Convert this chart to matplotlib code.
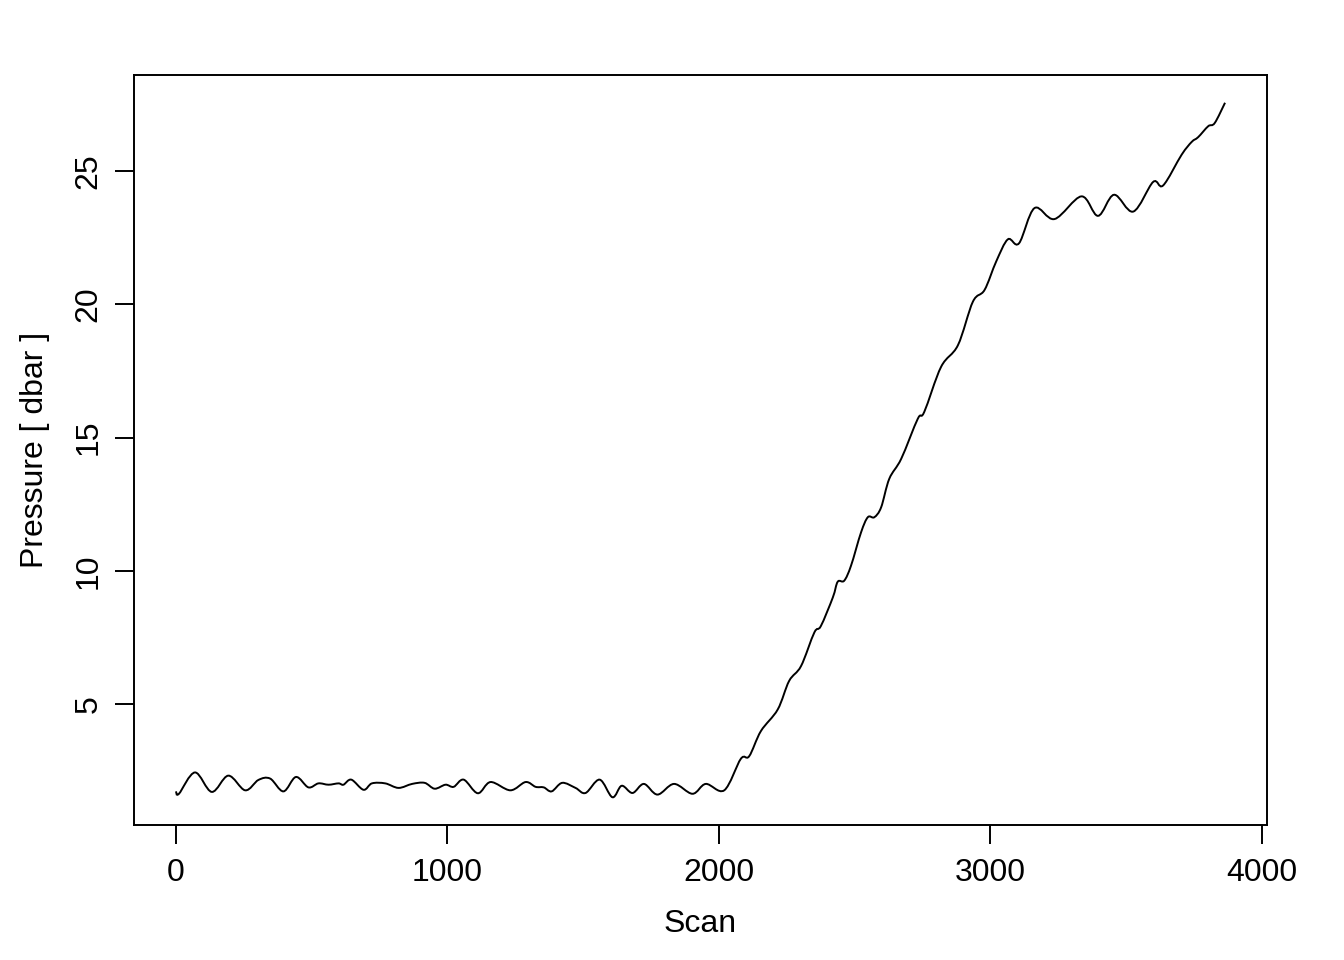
import numpy as np
import matplotlib
matplotlib.use('Agg')
import matplotlib.pyplot as plt
from matplotlib.path import Path
from matplotlib.patches import PathPatch

# scan number vs pressure
scan = [0, 11, 70, 132, 193, 255, 304, 347, 396, 442, 488, 525, 562, 599, 617,
        646, 691, 722, 771, 820, 870, 916, 953, 993, 1023, 1060, 1112, 1159,
        1232, 1288, 1325, 1355, 1384, 1423, 1472, 1509, 1561, 1608, 1642, 1682,
        1724, 1774, 1835, 1903, 1952, 2020, 2081, 2112, 2155, 2217, 2259, 2303,
        2352, 2376, 2420, 2438, 2462, 2487, 2524, 2549, 2573, 2598, 2628, 2672,
        2733, 2757, 2819, 2881, 2936, 2979, 3022, 3065, 3106, 3163, 3237, 3336,
        3397, 3456, 3527, 3600, 3637, 3705, 3742, 3766, 3803, 3827, 3865]
pressure = [1.74, 1.65, 2.45, 1.72, 2.33, 1.78, 2.17, 2.22, 1.74, 2.28, 1.89,
            2.04, 1.99, 2.04, 1.99, 2.18, 1.80, 2.04, 2.04, 1.87, 2.02, 2.06,
            1.84, 1.99, 1.91, 2.18, 1.67, 2.09, 1.78, 2.09, 1.91, 1.89, 1.74,
            2.06, 1.87, 1.68, 2.18, 1.52, 1.95, 1.68, 2.02, 1.62, 2.02, 1.65,
            2.02, 1.78, 2.96, 3.06, 4.00, 4.81, 5.88, 6.44, 7.70, 7.94, 9.01,
            9.60, 9.64, 10.20, 11.45, 12.02, 12.02, 12.39, 13.46, 14.21, 15.71,
            15.97, 17.66, 18.47, 20.10, 20.54, 21.61, 22.44, 22.29, 23.61,
            23.20, 24.05, 23.32, 24.11, 23.48, 24.59, 24.46, 25.61, 26.09,
            26.27, 26.68, 26.80, 27.56]

xticks = [0, 1000, 2000, 3000, 4000]
yticks = [5, 10, 15, 20, 25]

plt.rcParams['font.family'] = ['Liberation Sans', 'DejaVu Sans']

fig = plt.figure(figsize=(13.44, 9.6), dpi=100)
ax = fig.add_axes([0.0997, 0.1406, 0.8430, 0.7813])

# smooth curve through the read points (Catmull-Rom as cubic Bezier)
x = np.asarray(scan, float)
y = np.asarray(pressure, float)
verts = [(x[0], y[0])]
codes = [Path.MOVETO]
n = len(x)
for i in range(n - 1):
    p0 = (x[max(i - 1, 0)], y[max(i - 1, 0)])
    p1 = (x[i], y[i])
    p2 = (x[i + 1], y[i + 1])
    p3 = (x[min(i + 2, n - 1)], y[min(i + 2, n - 1)])
    c1 = (p1[0] + (p2[0] - p0[0]) / 6, p1[1] + (p2[1] - p0[1]) / 6)
    c2 = (p2[0] - (p3[0] - p1[0]) / 6, p2[1] - (p3[1] - p1[1]) / 6)
    verts += [c1, c2, p2]
    codes += [Path.CURVE4] * 3
ax.add_patch(PathPatch(Path(verts, codes), facecolor='none',
                       edgecolor='black', lw=1.4))

# R-style 4% padding
dx = (x.max() - x.min()) * 0.04
dy = (y.max() - y.min()) * 0.04
ax.set_xlim(x.min() - dx, x.max() + dx)
ax.set_ylim(y.min() - dy, y.max() + dy)

ax.set_xticks(xticks)
ax.set_yticks(yticks)
ax.set_xticklabels([str(t) for t in xticks])
ax.set_yticklabels([str(t) for t in yticks], rotation=90, va='center')
ax.tick_params(length=14, width=1.4, labelsize=23)
ax.tick_params(axis='x', pad=10)
ax.tick_params(axis='y', pad=8)

for s in ax.spines.values():
    s.set_linewidth(1.4)

ax.set_xlabel('Scan', fontsize=23, labelpad=15)
ax.set_ylabel('Pressure [ dbar ]', fontsize=23, labelpad=17)

fig.savefig('out.png', dpi=100)
